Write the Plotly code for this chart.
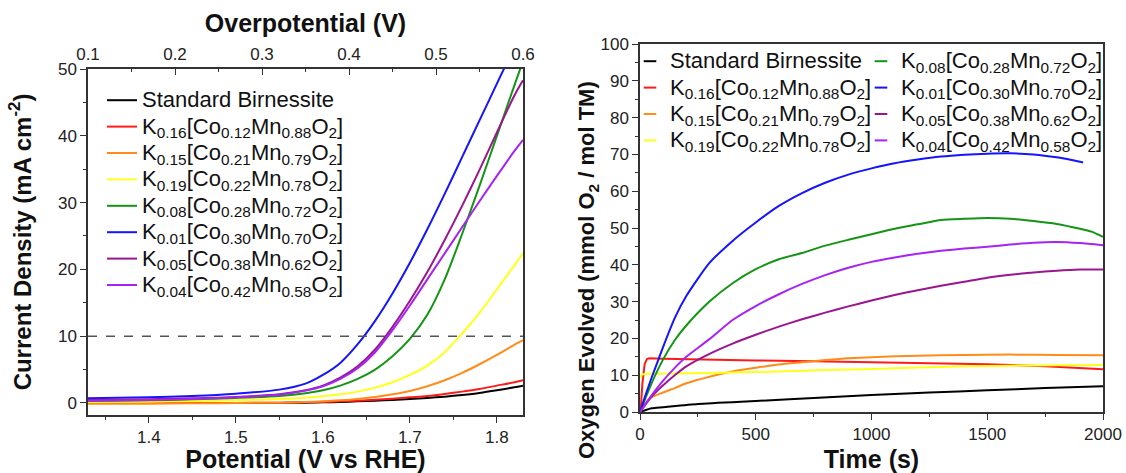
import plotly.graph_objects as go

W, H = 1126, 473
FONT = "Liberation Sans, Arial, sans-serif"

# ---------------- Series metadata ----------------
names = [
    "Standard Birnessite",
    "K<sub>0.16</sub>[Co<sub>0.12</sub>Mn<sub>0.88</sub>O<sub>2</sub>]",
    "K<sub>0.15</sub>[Co<sub>0.21</sub>Mn<sub>0.79</sub>O<sub>2</sub>]",
    "K<sub>0.19</sub>[Co<sub>0.22</sub>Mn<sub>0.78</sub>O<sub>2</sub>]",
    "K<sub>0.08</sub>[Co<sub>0.28</sub>Mn<sub>0.72</sub>O<sub>2</sub>]",
    "K<sub>0.01</sub>[Co<sub>0.30</sub>Mn<sub>0.70</sub>O<sub>2</sub>]",
    "K<sub>0.05</sub>[Co<sub>0.38</sub>Mn<sub>0.62</sub>O<sub>2</sub>]",
    "K<sub>0.04</sub>[Co<sub>0.42</sub>Mn<sub>0.58</sub>O<sub>2</sub>]",
]
colors = ["#000000", "#ff1a1a", "#ff8c1a", "#ffff1a", "#149414", "#1414ff", "#9a168f", "#a624f2"]

# ---------------- Left panel: LSV (current density vs potential) ----------------
potential = [1.33, 1.40, 1.45, 1.50, 1.55, 1.58, 1.60, 1.62, 1.64, 1.66, 1.68,
             1.70, 1.72, 1.74, 1.76, 1.78, 1.80, 1.82, 1.83]
j_birnessite = [0.0, 0.0, 0.0, 0.0, 0.0, 0.05, 0.1, 0.15, 0.25, 0.35, 0.45,
                0.6, 0.75, 0.95, 1.2, 1.5, 1.9, 2.35, 2.6]
j_k016 = [0.0, 0.0, 0.0, 0.0, 0.05, 0.1, 0.15, 0.25, 0.35, 0.5, 0.65,
          0.85, 1.05, 1.35, 1.7, 2.1, 2.6, 3.1, 3.4]
j_k015 = [-0.1, -0.1, -0.05, 0.0, 0.05, 0.15, 0.25, 0.4, 0.6, 0.9, 1.3,
          1.8, 2.5, 3.4, 4.5, 5.8, 7.2, 8.7, 9.4]
j_k019 = [0.15, 0.2, 0.3, 0.4, 0.6, 0.8, 1.0, 1.3, 1.7, 2.3, 3.1,
          4.2, 5.6, 7.6, 10.4, 13.5, 17.0, 20.6, 22.4]
j_k008 = [0.3, 0.4, 0.55, 0.75, 1.05, 1.45, 1.9, 2.6, 3.6, 5.0, 7.0,
          9.6, 13.2, 18.5, 25.3, 32.5, 40.0, 47.5, 51.2]
j_k001 = [0.7, 0.85, 1.05, 1.4, 2.0, 2.9, 4.2, 6.0, 8.8, 12.3, 16.4,
          21.0, 26.0, 31.3, 36.8, 42.3, 47.8, 53.3, 56.0]
j_k005 = [0.45, 0.55, 0.7, 0.9, 1.3, 1.9, 2.6, 3.8, 5.5, 8.0, 11.4,
          15.3, 19.6, 24.4, 29.5, 34.9, 40.5, 46.0, 48.3]
j_k004 = [0.35, 0.45, 0.6, 0.85, 1.25, 1.85, 2.5, 3.6, 5.2, 7.6, 10.9,
          14.6, 18.5, 22.4, 26.3, 30.2, 34.0, 37.7, 39.4]
lsv_series = [j_birnessite, j_k016, j_k015, j_k019, j_k008, j_k001, j_k005, j_k004]

REF_CURRENT = 10          # dashed benchmark line (mA cm^-2)
E_O2 = 1.23               # overpotential = E - 1.23 V
pot_range = [1.33, 1.83]
j_range = [-1.8, 50]
overpot_ticks = [0.1, 0.2, 0.3, 0.4, 0.5, 0.6]

# ---------------- Right panel: oxygen evolved vs time ----------------
t_bir = [0, 50, 100, 250, 500, 750, 1000, 1250, 1500, 1750, 2000]
o_bir = [0.0, 1.0, 1.3, 2.2, 3.0, 3.8, 4.6, 5.3, 5.9, 6.5, 7.0]

t_k016 = [0, 5, 10, 15, 20, 30, 40, 100, 300, 500, 750, 1000, 1250, 1500, 1750, 1900, 2000]
o_k016 = [0.0, 2.5, 7.5, 10.5, 13.0, 14.4, 14.6, 14.5, 14.2, 14.0, 13.8, 13.5, 13.3, 13.0, 12.4, 12.0, 11.6]

t_k015 = [0, 25, 50, 100, 150, 200, 300, 400, 500, 600, 700, 800, 900, 1000, 1200, 1400, 1600, 1800, 2000]
o_k015 = [0.0, 2.5, 4.0, 5.3, 6.5, 7.8, 9.6, 11.0, 12.0, 12.9, 13.5, 14.1, 14.6, 14.9, 15.3, 15.5, 15.6, 15.5, 15.4]

t_k019 = [0, 10, 50, 200, 400, 600, 800, 1000, 1200, 1400, 1600, 1800, 2000]
o_k019 = [9.3, 10.2, 10.4, 10.5, 10.7, 11.0, 11.4, 11.7, 12.1, 12.4, 12.6, 12.7, 12.8]

t_k008 = [0, 25, 50, 100, 150, 200, 300, 400, 500, 600, 700, 800, 900, 1000, 1100, 1200,
          1300, 1400, 1500, 1600, 1700, 1800, 1900, 1950, 2000]
o_k008 = [0.0, 4.0, 7.8, 14.3, 19.5, 23.5, 30.0, 35.0, 38.8, 41.5, 43.2, 45.2, 46.8, 48.3, 49.8, 51.0,
          52.2, 52.5, 52.7, 52.5, 51.9, 51.1, 49.8, 49.0, 47.6]

t_k001 = [0, 25, 50, 75, 100, 150, 200, 300, 400, 500, 600, 700, 800, 900, 1000, 1100, 1200,
          1300, 1400, 1500, 1600, 1700, 1800, 1900, 1914]
o_k001 = [0.0, 4.8, 9.3, 13.5, 17.7, 25.5, 31.5, 40.5, 46.5, 51.5, 56.0, 59.5, 62.3, 64.5, 66.2, 67.6, 68.6,
          69.4, 69.9, 70.2, 70.3, 70.0, 69.2, 68.0, 67.8]

t_k005 = [0, 50, 100, 150, 200, 300, 400, 500, 600, 700, 800, 900, 1000, 1100, 1200, 1300,
          1400, 1500, 1600, 1700, 1800, 1900, 2000]
o_k005 = [0.0, 4.2, 7.3, 10.0, 12.4, 15.8, 18.6, 21.0, 23.2, 25.2, 27.0, 28.7, 30.3, 31.8, 33.1, 34.3,
          35.4, 36.5, 37.3, 37.9, 38.4, 38.7, 38.7]

t_k004 = [0, 50, 100, 150, 200, 300, 400, 500, 600, 700, 800, 900, 1000, 1100, 1200, 1300,
          1400, 1500, 1600, 1700, 1800, 1900, 2000]
o_k004 = [0.0, 4.5, 8.5, 12.0, 15.0, 19.8, 25.0, 28.8, 32.0, 34.8, 37.2, 39.2, 40.8, 42.0, 43.0, 43.8,
          44.4, 44.9, 45.5, 46.0, 46.2, 45.9, 45.3]

time_series = [t_bir, t_k016, t_k015, t_k019, t_k008, t_k001, t_k005, t_k004]
o2_series = [o_bir, o_k016, o_k015, o_k019, o_k008, o_k001, o_k005, o_k004]
right_shapes = ["spline", "linear", "spline", "spline", "spline", "spline", "spline", "spline"]
right_legend_columns = [[0, 1, 2, 3], [4, 5, 6, 7]]

LEGEND_TEXT_PX = 22


def big(label):
    return f'<span style="font-size:{LEGEND_TEXT_PX}px">{label}</span>'


# ---------------- Figure ----------------
fig = go.Figure()

for name, col, j in zip(names, colors, lsv_series):
    fig.add_trace(go.Scatter(
        x=potential, y=j, mode="lines", name=big(name),
        line=dict(color=col, width=2, shape="spline", smoothing=0.8),
        xaxis="x", yaxis="y", legend="legend", showlegend=True))

# invisible copy on the overpotential axis so the top axis is drawn
fig.add_trace(go.Scatter(
    x=[p - E_O2 for p in potential], y=j_birnessite, mode="lines",
    line=dict(width=0, color="rgba(0,0,0,0)"), xaxis="x3", yaxis="y",
    showlegend=False, hoverinfo="skip"))

for t, o, col, shp in zip(time_series, o2_series, colors, right_shapes):
    fig.add_trace(go.Scatter(
        x=t, y=o, mode="lines", line=dict(color=col, width=2, shape=shp, smoothing=0.6),
        xaxis="x2", yaxis="y2", showlegend=False, hoverinfo="skip"))

# legend proxies for the right panel (short dash samples, two columns)
for lg, idxs in zip(["legend2", "legend3"], right_legend_columns):
    for i in idxs:
        fig.add_trace(go.Scatter(
            x=[None], y=[None], mode="markers", name=big(names[i]),
            marker=dict(symbol="line-ew", size=9, line=dict(color=colors[i], width=2)),
            xaxis="x2", yaxis="y2", legend=lg, showlegend=True))

fig.add_shape(type="line", xref="x", yref="y", x0=pot_range[0], x1=pot_range[1],
              y0=REF_CURRENT, y1=REF_CURRENT,
              line=dict(color="#555555", width=1.6, dash="dash"))

TICKFONT = dict(size=17, color="#222222", family=FONT)
axis_line = dict(showline=True, linecolor="#333333", linewidth=1.5, showgrid=False,
                 zeroline=False, ticks="outside", ticklen=6, tickwidth=1.3, tickcolor="#333333",
                 tickfont=TICKFONT)
minor_out = dict(ticks="outside", ticklen=3, tickwidth=1.2, tickcolor="#333333", showgrid=False)

dom_x1 = [88 / W, 523 / W]
dom_y1 = [(H - 415) / H, (H - 69) / H]
dom_x2 = [640 / W, 1103 / W]
dom_y2 = [(H - 412) / H, (H - 44) / H]

title_font = dict(size=25, color="#111111", family=FONT)

fig.update_layout(
    width=W, height=H,
    margin=dict(l=0, r=0, t=0, b=0, autoexpand=False),
    paper_bgcolor="white", plot_bgcolor="white",
    font=dict(family=FONT, color="#111111"),
    xaxis=dict(domain=dom_x1, range=pot_range, anchor="y", dtick=0.1, tick0=1.3,
               mirror=False, automargin=False,
               minor=dict(dtick=0.05, tick0=1.3, **minor_out),
               title=dict(text="<b>Potential (V vs RHE)</b>", font=title_font, standoff=8),
               **axis_line),
    yaxis=dict(domain=dom_y1, range=j_range, anchor="x", dtick=10, tick0=0,
               mirror=True, automargin=False,
               minor=dict(dtick=5, tick0=0, **minor_out),
               title=dict(text="<b>Current Density (mA cm<sup>-2</sup>)</b>",
                          font=dict(size=24, color="#111111", family=FONT), standoff=20),
               **axis_line),
    xaxis3=dict(overlaying="x", anchor="y", side="top",
                range=[pot_range[0] - E_O2, pot_range[1] - E_O2],
                tickvals=overpot_ticks, ticktext=[f"{v:.1f}" for v in overpot_ticks],
                showline=True, linecolor="#333333", linewidth=1.5, showgrid=False, zeroline=False,
                ticks="inside", ticklen=6, tickwidth=1.3, tickcolor="#333333",
                tickfont=TICKFONT, automargin=False,
                minor=dict(dtick=0.05, tick0=0.1, ticks="inside", ticklen=3, tickwidth=1.2,
                           tickcolor="#333333", showgrid=False),
                title=dict(text="<b>Overpotential (V)</b>", font=title_font, standoff=6)),
    xaxis2=dict(domain=dom_x2, range=[0, 2000], anchor="y2", dtick=500, tick0=0,
                mirror=True, automargin=False,
                minor=dict(dtick=250, tick0=0, **minor_out),
                title=dict(text="<b>Time (s)</b>", font=title_font, standoff=8),
                **axis_line),
    yaxis2=dict(domain=dom_y2, range=[0, 100], anchor="x2", dtick=10, tick0=0,
                mirror=True, automargin=False,
                minor=dict(dtick=5, tick0=0, **minor_out),
                **axis_line),
    legend=dict(x=102 / W, y=1 - 82 / H, xanchor="left", yanchor="top",
                bgcolor="rgba(0,0,0,0)", borderwidth=0, itemwidth=30,
                font=dict(size=18, color="#111111", family=FONT), tracegroupgap=0),
    legend2=dict(x=630 / W, y=1 - 43 / H, xanchor="left", yanchor="top",
                 bgcolor="rgba(0,0,0,0)", borderwidth=0, itemwidth=30,
                 font=dict(size=18, color="#111111", family=FONT), tracegroupgap=0),
    legend3=dict(x=861 / W, y=1 - 43 / H, xanchor="left", yanchor="top",
                 bgcolor="rgba(0,0,0,0)", borderwidth=0, itemwidth=30,
                 font=dict(size=18, color="#111111", family=FONT), tracegroupgap=0),
)

# y-axis title of the right panel (positioned like the reference, slightly below centre)
fig.add_annotation(
    text="<b>Oxygen Evolved (mmol O<sub>2</sub> / mol TM)</b>",
    xref="paper", yref="paper", x=588 / W, y=1 - 270 / H,
    xanchor="center", yanchor="middle", textangle=-90, showarrow=False,
    font=dict(size=22, color="#111111", family=FONT))

fig.write_html("out.html", post_script="document.body.style.margin='0';",
               config={"displayModeBar": False})
